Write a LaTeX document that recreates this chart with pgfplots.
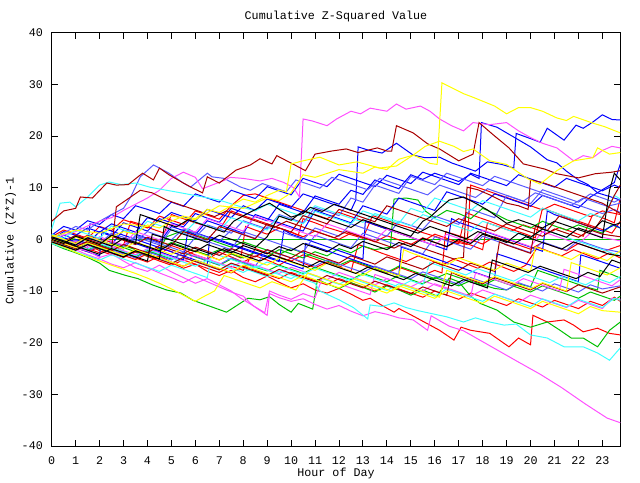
\documentclass[border=0pt]{standalone}
\usepackage{pgfplots}
\pgfplotsset{compat=1.18}
\usepackage{fontspec}
\setmainfont{Liberation Mono}
\definecolor{gred}{HTML}{FF0000}
\definecolor{ggreen}{HTML}{00C000}
\definecolor{gblue}{HTML}{0000FF}
\definecolor{gmag}{HTML}{FF50FF}
\definecolor{gcyan}{HTML}{40FFFF}
\definecolor{gdred}{HTML}{A80000}
\definecolor{gyel}{HTML}{FFFF00}
\definecolor{gblack}{HTML}{000000}
\definecolor{glblue}{HTML}{5A5AFF}
\begin{document}
\begin{tikzpicture}
\fontsize{11.7bp}{14bp}\selectfont
\begin{axis}[
  scale only axis, width=568.6bp, height=413.3bp,
  xmin=0, xmax=23.75, ymin=-40, ymax=40,
  xtick={0,1,...,23}, ytick={-40,-30,...,40},
  yticklabels={-40,-30,-20,-10,0,10,20,30,40},
  /pgf/number format/assume math mode=true,
  tick align=inside, major tick length=6bp,
  axis line style={line width=0.9bp},
  every tick/.style={black, line width=0.9bp},
  ticklabel style={font=\fontsize{11.7bp}{14bp}\selectfont, inner sep=0pt},
  xticklabel style={anchor=center, yshift=-15bp},
  yticklabel style={anchor=east, xshift=-8.7bp},
  every axis plot/.append style={line width=1bp, mark=none},
]
\addplot[ggreen] coordinates {(0,0)(23.75,0)};
% red
\addplot[gred] coordinates {(0,0)(0.5,-0.6)(1,-1.4)(1.5,-1.0)(2,-2.2)(2.5,-3.0)(3,-2.4)(3.5,-3.6)(4,-4.4)(4.5,-3.2)(5,-4.5)(5.5,-5.6)(6,-4.8)(6.5,-6.2)(7,-7.0)(7.5,-6.0)(8,-7.4)(8.5,-8.2)(9,-7.1)(9.5,-8.3)(10,-9.4)(10.5,-8.6)(11,-9.8)(11.5,-10.4)(12,-9.5)(12.5,-10.6)(13,-11.8)(13.3,-11.4)(13.8,-12.8)(14.3,-14.1)(14.5,-13.4)(15,-14.6)(15.4,-15.6)(15.8,-16.6)(16.2,-17.6)(16.8,-19.5)(17.1,-17.0)(17.5,-17.6)(17.9,-17.9)(18.3,-18.2)(18.7,-19.5)(19.1,-20.8)(19.5,-19.1)(19.8,-19.9)(20.0,-20.4)(20.1,-14.7)(20.7,-16.0)(21.4,-15.6)(21.8,-16.6)(22.2,-17.9)(22.8,-17.2)(23.3,-18.2)(23.75,-18.5)};
\addplot[gred] coordinates {(0,1)(0.5,0.3)(1,-0.5)(1.5,0.8)(2,0.2)(2.5,-0.6)(3,-1.2)(3.3,3.5)(3.8,2.8)(4.2,2.0)(4.7,1.2)(5,4.8)(5.5,4.0)(6,3.2)(6.5,2.5)(7,1.8)(7.5,5.5)(8,4.6)(8.5,3.8)(9,3.0)(9.5,2.2)(10,1.4)(10.3,0.8)(10.5,4.0)(11,3.2)(11.5,2.3)(12,1.6)(12.5,0.9)(13,0.2)(13.4,4.6)(13.9,3.8)(14.4,3.0)(15,2.2)(15.5,1.3)(16,0.6)(16.5,-0.2)(17,-0.9)(17.3,5.2)(17.8,4.3)(18.3,3.5)(18.8,2.6)(19.3,1.8)(19.8,1.0)(20.2,0.3)(20.5,6.0)(21,5.2)(21.5,4.3)(22,3.5)(22.5,2.7)(23,1.9)(23.4,1.2)(23.75,3.5)};
\addplot[gred] coordinates {(0,-0.5)(0.5,-1.2)(1,-0.6)(1.5,-1.8)(2,-2.6)(2.5,-1.5)(3,-2.4)(3.5,-3.3)(4,-2.1)(4.5,-3.0)(5,-1.2)(5.5,-2.0)(6,-3.0)(6.5,-3.8)(7,-2.5)(7.5,-3.4)(8,-4.4)(8.5,-3.2)(9,-4.0)(9.5,-5.0)(10,-3.6)(10.5,-4.6)(11,-5.5)(11.5,-4.4)(12,-5.3)(12.5,-6.2)(12.8,-1.0)(13.3,-1.8)(13.8,-2.7)(14.3,-3.5)(14.8,-4.3)(15.3,-3.2)(15.8,-4.0)(16.3,-5.0)(16.8,-3.8)(17.3,-4.7)(17.8,-5.6)(18.3,-4.4)(18.8,-5.3)(19.3,-6.2)(19.8,-5.0)(20.3,-1.5)(20.8,-2.4)(21.3,-3.2)(21.8,-2.0)(22.3,-2.9)(22.8,-3.8)(23.3,-2.6)(23.75,-3.6)};
\addplot[gred] coordinates {(0,0.2)(0.5,-0.5)(1,-1.3)(1.5,-0.4)(2,-1.3)(2.5,-2.1)(3,-1.0)(3.5,-1.9)(4,-2.8)(4.5,-1.6)(5,-2.4)(5.5,-3.3)(6,-2.2)(6.5,-3.1)(7,-4.0)(7.5,-2.8)(7.9,-3.6)(8.1,2.5)(8.5,1.8)(9,1.0)(9.5,2.2)(10,1.4)(10.5,0.5)(11,1.6)(11.5,0.8)(12,0.0)(12.5,1.2)(13,0.4)(13.5,-0.5)(14,0.7)(14.5,-0.1)(15,-1.0)(15.5,0.3)(16,-0.6)(16.5,-1.4)(17,-0.3)(17.5,-1.1)(18,-2.0)(18.2,3.2)(18.7,2.4)(19.2,1.6)(19.7,2.8)(20.2,2.0)(20.7,1.1)(21.2,2.3)(21.7,1.5)(22.2,0.6)(22.6,4.8)(23.1,4.0)(23.5,3.2)(23.75,8.0)};
\addplot[gred] coordinates {(0,0)(0.5,-0.8)(1,-1.6)(1.5,-2.4)(2,-1.5)(2.5,-2.3)(3,-3.1)(3.5,-3.9)(4,-2.8)(4.5,-3.6)(5,-4.4)(5.5,-5.2)(6,-4.1)(6.5,-4.9)(7,-5.7)(7.5,-6.5)(8,-5.2)(8.5,-6.0)(9,-6.8)(9.5,-7.6)(10,-6.4)(10.5,-7.2)(11,-8.0)(11.5,-8.8)(12,-7.6)(12.5,-8.4)(13,-9.2)(13.5,-10.0)(14,-8.8)(14.5,-9.6)(15,-10.4)(15.5,-11.2)(16,-10.0)(16.5,-10.8)(17,-11.6)(17.5,-10.4)(18,-11.2)(18.5,-12.0)(19,-12.8)(19.5,-11.5)(20,-12.3)(20.5,-13.1)(21,-11.8)(21.5,-12.6)(22,-13.4)(22.5,-12.0)(23,-12.8)(23.5,-11.2)(23.75,-12.0)};
\addplot[gred] coordinates {(0,0)(0.5,-0.9)(1,-1.8)(1.5,-0.9)(2,-1.8)(2.5,-2.7)(3,-3.5)(3.5,-2.5)(4,-3.3)(4.5,-4.2)(5,-5.0)(5.5,-4.0)(6,-4.8)(6.5,-5.6)(7,-6.4)(7.5,-5.2)(8,-6.0)(8.5,-1.8)(9,-2.6)(9.5,-3.4)(10,-4.2)(10.5,-3.0)(11,-3.8)(11.5,-4.6)(12,-5.4)(12.5,-4.2)(13,-5.0)(13.5,-5.8)(14,-6.6)(14.5,-5.4)(15,-6.2)(15.5,-7.0)(16,-6.0)(16.3,-6.5)(16.45,1.5)(17,0.7)(17.5,-0.1)(18,-0.9)(18.5,0.5)(19,-0.3)(19.5,-1.1)(20,-1.9)(20.5,-0.6)(21,-1.4)(21.5,-2.2)(22,-0.8)(22.5,-1.6)(23,-2.4)(23.75,-1.2)};
\addplot[gred] coordinates {(0,0.5)(0.5,1.8)(1,1.0)(1.5,0.2)(2,2.5)(2.5,1.7)(3,3.8)(3.5,3.0)(4,2.2)(4.5,4.5)(5,3.7)(5.5,2.9)(6,5.5)(6.5,4.7)(7,3.9)(7.5,6.5)(8,8.5)(8.5,8.8)(9,8.0)(9.5,7.2)(10,6.4)(10.5,5.6)(11,4.8)(11.5,4.0)(12,5.2)(12.5,4.4)(13,3.6)(13.5,2.8)(14,2.0)(14.5,1.2)(15,0.4)(15.5,-0.4)(16,1.0)(16.5,0.2)(17,-0.6)(17.35,-1.0)(17.5,10.5)(18,9.7)(18.5,8.9)(19,8.1)(19.5,7.3)(20,6.5)(20.5,5.7)(21,6.8)(21.5,6.0)(22,5.2)(22.5,4.4)(23,5.5)(23.75,4.8)};
% green
\addplot[ggreen] coordinates {(0,-0.8)(0.5,-1.8)(1,-2.6)(1.5,-3.5)(2,-4.6)(2.4,-6.0)(3.1,-7.0)(3.6,-7.6)(4.2,-8.8)(4.8,-9.8)(5.4,-10.4)(5.9,-11.8)(6.7,-13.1)(7.3,-14.1)(7.8,-12.6)(8.2,-11.4)(8.7,-11.7)(9.1,-11.1)(9.5,-12.6)(10.0,-14.1)(10.3,-12.4)(10.9,-13.5)(11.1,-7.8)(11.5,-8.6)(12,-9.5)(12.5,-8.4)(13,-9.3)(13.5,-10.2)(14,-9.0)(14.5,-9.8)(15,-10.8)(15.5,-9.8)(15.8,-10.4)(16.1,-11.0)(16.6,-7.5)(17.0,-8.2)(17.5,-11.0)(17.9,-12.4)(18.6,-13.7)(19.3,-16.0)(20.0,-17.0)(20.7,-16.0)(21.2,-17.5)(21.7,-19.1)(22.2,-19.1)(22.8,-20.8)(23.3,-17.6)(23.75,-16.0)};
\addplot[ggreen] coordinates {(0,-0.3)(0.5,-1.0)(1,-1.8)(1.5,-0.8)(2,-1.6)(2.5,-2.5)(3,-1.2)(3.5,-2.0)(4,-2.8)(4.5,-1.8)(5,-0.6)(5.5,-1.4)(6,-2.3)(6.5,-3.0)(7,-2.0)(7.5,-2.8)(8,-3.6)(8.5,-2.5)(9,-3.3)(9.5,-2.0)(10,-2.8)(10.5,-3.6)(11,-2.4)(11.5,-3.2)(12,-1.8)(12.5,-2.6)(13,-1.3)(13.5,-2.0)(14.15,-1.5)(14.3,7.8)(14.8,8.0)(15.3,7.6)(15.6,5.5)(16.0,4.2)(16.5,5.6)(17,5.0)(17.5,4.0)(18,6.0)(18.5,5.0)(19,3.8)(19.5,3.0)(20,2.2)(20.5,3.5)(21,2.6)(21.5,1.8)(22,2.8)(22.5,2.0)(23,1.2)(23.4,2.8)(23.75,2.2)};
\addplot[ggreen] coordinates {(0,0.3)(0.5,-0.5)(1,-1.2)(1.5,-2.0)(2,-1.0)(2.5,-1.8)(3,-2.6)(3.5,-3.3)(4,-2.2)(4.5,-3.0)(5,-3.8)(5.5,-2.6)(6,-3.4)(6.5,-4.2)(7,-5.0)(7.5,-3.8)(8,-4.6)(8.5,-5.4)(9,-6.1)(9.5,-5.0)(10,-5.8)(10.5,-6.6)(11,-5.4)(11.5,-6.2)(12,-7.0)(12.5,-7.8)(13,-6.6)(13.5,-7.4)(14,-8.2)(14.5,-7.0)(15,-7.8)(15.5,-8.6)(16,-7.4)(16.5,-8.2)(17,-9.0)(17.5,-8.0)(18,-8.8)(18.5,-9.5)(19,-9.8)(19.5,-8.6)(20,-9.2)(20.3,-6.0)(20.8,-6.8)(21.3,-7.6)(21.8,-8.4)(22.3,-9.2)(22.8,-9.8)(22.9,-6.0)(23.4,-6.8)(23.75,-7.5)};
\addplot[ggreen] coordinates {(0,-0.2)(0.5,-1.0)(1,-0.3)(1.5,-1.1)(2,-1.9)(2.5,-0.8)(3,-1.6)(3.5,-2.4)(4,-3.2)(4.5,-2.0)(4.8,0.5)(5.2,1.2)(5.6,1.8)(6,0.9)(6.5,0.1)(7,-0.7)(7.5,-1.5)(8,-0.5)(8.5,-1.3)(9,-2.1)(9.5,-2.9)(10,-1.8)(10.5,-2.6)(11,-3.4)(11.5,-4.2)(12,-5.0)(12.5,-4.0)(13,-4.8)(13.5,-5.6)(14,-6.4)(14.5,-5.2)(15,-6.0)(15.5,-6.8)(16,-7.6)(16.5,-6.6)(17,-7.4)(17.5,-8.2)(18,-9.0)(18.5,-7.8)(19,-8.6)(19.5,-9.4)(20,-10.2)(20.5,-9.0)(21,-9.8)(21.5,-10.6)(22,-11.4)(22.5,-10.2)(23,-11.0)(23.5,-11.8)(23.75,-11.0)};
% blue
\addplot[gblue] coordinates {(0,0)(0.5,1.5)(1,0.8)(1.5,2.2)(2,1.4)(2.5,3.0)(3,2.2)(3.5,1.4)(4,4.2)(4.5,3.4)(5,5.2)(5.5,4.4)(6,3.6)(6.5,5.8)(7,5.0)(7.5,4.2)(8,6.5)(8.5,5.6)(9,7.8)(9.5,7.0)(10,6.2)(10.5,8.8)(11,8.0)(11.5,7.2)(12,6.4)(12.5,5.6)(12.7,7.6)(12.8,17.9)(13.2,17.3)(13.8,16.7)(14.4,18.6)(15.1,16.3)(15.6,15.8)(16.2,15.9)(16.7,14.8)(17.2,14.0)(17.7,13.2)(18.2,15.0)(18.8,14.5)(19.3,13.8)(19.4,20.5)(20.0,19.5)(20.4,18.8)(20.7,21.5)(21.4,19.2)(21.9,22.1)(22.2,21.5)(22.6,22.7)(23.0,24.1)(23.4,23.2)(23.75,23.1)};
\addplot[gblue] coordinates {(0,-0.5)(0.5,0.8)(1,0.0)(1.5,-0.8)(2,1.5)(2.5,0.6)(3,3.2)(3.5,2.4)(4,1.6)(4.5,4.0)(5,3.2)(5.5,2.4)(6,5.0)(6.5,4.1)(7,3.3)(7.5,6.0)(8,5.2)(8.5,4.4)(9,3.6)(9.5,6.8)(10,6.0)(10.5,5.2)(11,8.4)(11.5,7.6)(12,6.8)(12.5,9.5)(13,8.7)(13.5,11.5)(14,10.6)(14.5,9.8)(15,12.5)(15.5,11.6)(16,12.8)(16.5,12.0)(17,11.2)(17.5,12.6)(17.85,11.8)(17.95,22.6)(18.6,21.7)(19.3,19.8)(20.0,17.9)(20.7,15.4)(21.1,14.8)(21.5,13.2)(22,11.5)(22.4,10.6)(22.8,9.0)(23.3,8.3)(23.75,7.6)};
\addplot[gblue] coordinates {(0,0.5)(0.5,-0.3)(1,-1.1)(1.5,0.6)(2,-0.2)(2.5,-1.0)(3,1.8)(3.5,1.0)(4,0.2)(4.5,-0.6)(5,2.5)(5.5,1.7)(6,0.9)(6.5,3.6)(7,2.8)(7.5,2.0)(8,1.2)(8.5,4.8)(9,4.0)(9.5,3.2)(10,2.4)(10.5,1.6)(11,5.6)(11.5,4.8)(12,4.0)(12.5,3.2)(13,6.5)(13.5,5.7)(14,4.9)(14.5,8.0)(15,7.2)(15.5,6.4)(16,5.6)(16.5,9.2)(17,8.4)(17.5,7.6)(18,6.8)(18.5,8.8)(19,8.0)(19.5,7.2)(20,6.4)(20.5,8.5)(21,7.7)(21.5,6.9)(22,6.1)(22.5,8.2)(23,9.6)(23.5,11.0)(23.75,14.6)};
\addplot[gblue] coordinates {(0,0)(0.5,-0.8)(1,-1.6)(1.5,-2.4)(2,-3.2)(2.1,1.5)(2.5,0.8)(3,0.0)(3.5,-0.8)(4,-1.6)(4.5,-2.4)(5,-3.2)(5.5,-4.0)(5.7,2.0)(6,1.3)(6.5,0.5)(7,-0.3)(7.5,-1.1)(8,-1.9)(8.5,-2.7)(9,-3.5)(9.5,-4.3)(9.7,1.8)(10,1.0)(10.5,0.2)(11,-0.6)(11.5,-1.4)(12,-2.2)(12.5,-3.0)(13,-3.8)(13.1,3.5)(13.5,2.8)(14,2.0)(14.5,1.2)(15,0.4)(15.5,-0.4)(16,-1.2)(16.5,-2.0)(16.7,4.0)(17,3.3)(17.5,2.5)(18,1.7)(18.5,0.9)(19,0.1)(19.5,-0.7)(20,-1.5)(20.5,-2.3)(20.7,5.5)(21,4.8)(21.5,4.0)(22,3.2)(22.5,2.4)(23,1.6)(23.5,2.8)(23.75,2.2)};
\addplot[gblue] coordinates {(0,1)(0.5,0.3)(1,-0.5)(1.5,-1.3)(1.6,3.0)(2,2.4)(2.5,1.6)(3,0.8)(3.5,0.0)(4,-0.8)(4.5,-1.6)(5,-2.4)(5.5,-3.2)(6,-4.0)(6.5,-4.8)(6.6,0.5)(7,-0.1)(7.5,-0.9)(8,-1.7)(8.5,-2.5)(9,-3.3)(9.5,-4.1)(10,-4.9)(10.5,-5.7)(10.6,-0.8)(11,-1.4)(11.5,-2.2)(12,-3.0)(12.5,-3.8)(13,-4.6)(13.5,-5.4)(14,-6.2)(14.5,-7.0)(14.6,-1.5)(15,-2.1)(15.5,-2.9)(16,-3.7)(16.5,-4.5)(17,-5.3)(17.5,-6.1)(18,-6.9)(18.5,-7.7)(18.6,-2.8)(19,-3.4)(19.5,-4.2)(20,-5.0)(20.5,-5.8)(21,-6.6)(21.5,-7.4)(22,-8.2)(22.1,-3.0)(22.5,-3.6)(23,-4.4)(23.5,-5.2)(23.75,-5.6)};
\addplot[gblue] coordinates {(0,0.8)(0.5,2.5)(1,1.8)(1.5,3.6)(2,2.9)(2.5,4.8)(3,4.0)(3.5,6.5)(4,5.8)(4.5,5.0)(5,7.2)(5.5,6.4)(6,8.8)(6.5,8.0)(7,7.2)(7.5,9.5)(8,8.7)(8.5,7.9)(9,10.2)(9.5,9.4)(10,8.6)(10.5,11.8)(11,11.0)(11.5,10.2)(12,12.6)(12.5,11.8)(13,11.0)(13.5,10.2)(14,12.4)(14.5,11.6)(15,10.8)(15.5,13.0)(16,12.2)(16.5,11.4)(17,10.6)(17.5,12.8)(18,12.0)(18.5,11.2)(19,10.4)(19.5,12.5)(20,11.7)(20.5,10.9)(21,10.1)(21.5,11.8)(22,11.0)(22.5,10.2)(23,9.4)(23.5,10.5)(23.75,10.0)};
% light blue
\addplot[glblue] coordinates {(0,0)(0.5,1.2)(1,2.5)(1.5,1.8)(2,3.5)(2.5,4.8)(3,6.0)(3.3,8.2)(3.7,12.1)(4.25,14.4)(4.5,13.8)(4.9,12.8)(5.5,10.9)(5.8,10.1)(6.5,12.8)(6.7,12.1)(7.2,11.8)(7.9,10.1)(8.3,9.5)(8.8,10.8)(9.3,10.0)(9.8,9.2)(10.2,11.5)(10.7,10.7)(11.2,9.9)(11.7,12.0)(12.2,11.2)(12.7,10.4)(13.2,9.6)(13.7,11.8)(14.2,11.0)(14.7,10.2)(15.2,9.4)(15.7,8.6)(16.2,10.5)(16.7,9.7)(17.2,8.9)(17.7,8.1)(18.2,9.8)(18.7,9.0)(19.2,8.2)(19.7,7.4)(20.2,9.0)(20.7,8.2)(21.2,7.4)(21.7,6.6)(22.2,8.0)(22.7,7.2)(23.2,6.4)(23.75,7.0)};
\addplot[glblue] coordinates {(0,0.5)(0.5,-0.2)(1,-1.0)(1.5,0.5)(2,-0.3)(2.5,-1.1)(3,-1.9)(3.5,0.8)(4,0.0)(4.5,-0.8)(5,-1.6)(5.5,-2.4)(6,0.4)(6.5,-0.4)(7,-1.2)(7.5,-2.0)(8,1.5)(8.5,0.7)(9,-0.1)(9.5,-0.9)(10,-1.7)(10.5,-2.5)(11,0.8)(11.5,0.0)(12,-0.8)(12.5,-1.6)(13,1.2)(13.5,0.4)(14,-0.4)(14.5,-1.2)(15,-2.0)(15.5,-2.8)(16,0.5)(16.5,-0.3)(17,-1.1)(17.5,-1.9)(18,0.6)(18.5,-0.2)(19,-1.0)(19.5,-1.8)(20,-2.6)(20.5,-0.5)(21,-1.3)(21.5,-2.1)(22,-0.2)(22.5,-1.0)(23,-1.8)(23.75,-2.5)};
\addplot[glblue] coordinates {(0,-0.3)(0.5,-1.1)(1,-0.2)(1.5,-1.0)(2,-1.8)(2.5,-0.5)(3,-1.3)(3.5,0.5)(4,-0.3)(4.5,-1.1)(5,2.0)(5.5,1.2)(6,0.4)(6.5,2.8)(7,2.0)(7.5,1.2)(8,3.6)(8.5,2.8)(9,2.0)(9.5,4.8)(10,4.0)(10.5,3.2)(11,6.2)(11.5,5.4)(12,4.6)(12.5,8.0)(13,7.2)(13.5,10.5)(14,9.7)(14.5,8.9)(15,12.2)(15.5,11.4)(16,10.6)(16.5,12.8)(17,12.0)(17.5,11.2)(18,10.4)(18.5,12.2)(19,11.4)(19.5,10.6)(20,9.8)(20.5,9.0)(21,8.2)(21.5,7.4)(22,6.6)(22.5,5.8)(23,5.0)(23.5,5.8)(23.75,5.2)};
\addplot[glblue] coordinates {(0,0)(0.5,-0.7)(1,-1.5)(1.5,-2.3)(2,-1.2)(2.5,-2.0)(3,-2.8)(3.5,-3.6)(4,-2.4)(4.5,-3.2)(5,-4.0)(5.5,-2.5)(6,-3.3)(6.5,-4.1)(7,-4.9)(7.5,-3.6)(8,-4.4)(8.5,-5.2)(9,-2.0)(9.5,-2.8)(10,-3.6)(10.5,-4.4)(11,-5.2)(11.5,-4.0)(12,-4.8)(12.5,-5.6)(13,-6.4)(13.5,-5.2)(14,-6.0)(14.5,-6.8)(15,-7.6)(15.5,-6.3)(16,-7.1)(16.5,-7.9)(17,-8.7)(17.5,-7.4)(18,-8.2)(18.5,-9.0)(19,-9.8)(19.5,-8.4)(20,-9.2)(20.5,-10.0)(21,-8.6)(21.5,-9.4)(22,-10.2)(22.5,-8.8)(23,-9.6)(23.75,-9.0)};
\addplot[glblue] coordinates {(0,0.2)(0.5,-0.6)(1,0.8)(1.5,0.0)(2,-0.8)(2.5,1.2)(3,0.4)(3.5,-0.4)(4,1.5)(4.5,0.7)(5,-0.1)(5.5,2.0)(6,1.2)(6.5,0.4)(7,-0.4)(7.5,1.8)(8,1.0)(8.5,0.2)(9,2.4)(9.5,1.6)(10,0.8)(10.5,0.0)(11,2.2)(11.5,1.4)(12,0.6)(12.5,3.0)(13,2.2)(13.5,1.4)(14,0.6)(14.5,3.5)(15,2.7)(15.5,1.9)(16,4.5)(16.5,3.7)(17,2.9)(17.5,5.8)(18,5.0)(18.5,4.2)(19,8.5)(19.5,7.7)(20,6.9)(20.5,9.6)(21,8.8)(21.5,8.0)(22,7.2)(22.5,8.8)(23,8.0)(23.5,7.2)(23.75,7.8)};
% magenta
\addplot[gmag] coordinates {(0,0)(0.5,0.8)(1,1.5)(1.5,2.6)(2,3.5)(2.5,4.2)(3,5.6)(3.5,6.8)(4,8.0)(4.5,9.5)(5,11.8)(5.5,13.0)(6,12.0)(6.3,9.8)(6.75,10.6)(7.2,11.4)(7.45,12.0)(8,11.8)(8.7,11.3)(9.2,11.8)(9.7,11.0)(10.1,10.0)(10.35,8.2)(10.5,23.3)(10.9,22.9)(11.5,22.0)(11.9,23.3)(12.5,24.8)(12.9,24.3)(13.3,25.4)(14.0,24.8)(14.4,26.2)(14.8,25.2)(15.4,25.8)(15.8,24.8)(16.2,23.3)(16.7,22.0)(17.2,21.0)(17.6,22.6)(18.3,22.2)(19.0,22.6)(19.5,21.0)(20.0,19.7)(20.5,18.6)(21.1,17.7)(21.8,15.2)(22.2,16.2)(22.6,15.8)(23.0,17.2)(23.4,18.0)(23.75,17.7)};
\addplot[gmag] coordinates {(0,0)(0.5,-0.8)(1,-1.8)(1.5,-2.2)(2,-3.5)(2.5,-2.8)(3,-4.2)(3.5,-5.5)(4,-6.2)(4.5,-5.0)(5,-6.3)(5.5,-7.4)(6,-8.5)(6.5,-7.6)(7,-8.8)(7.5,-10.0)(7.9,-11.4)(8.4,-12.8)(9.0,-14.7)(9.1,-10.5)(9.5,-11.3)(10,-12.0)(10.5,-11.5)(11,-12.6)(11.5,-13.5)(12,-12.8)(12.5,-13.9)(13,-14.8)(13.5,-14.0)(14,-14.5)(14.5,-15.2)(15.1,-15.6)(15.7,-17.6)(15.85,-14.8)(16.6,-16.8)(17.2,-17.7)(18.3,-20.6)(19.4,-23.5)(20.4,-26.1)(21.3,-28.7)(22.3,-31.9)(23.2,-34.6)(23.75,-35.5)};
\addplot[gmag] coordinates {(0,0.8)(0.5,0.0)(1,-0.8)(1.5,-1.6)(2,-0.6)(2.5,-1.4)(3,-2.2)(3.5,-3.0)(4,-1.8)(4.5,-2.6)(5,-3.4)(5.5,-4.2)(6,-3.0)(6.5,-3.8)(7,-4.6)(7.5,-5.4)(8,-4.2)(8.5,-5.0)(9,-5.8)(9.5,-6.6)(10,-5.4)(10.5,-6.2)(11,-7.0)(11.5,-7.8)(12,-6.4)(12.5,-7.2)(13,-8.0)(13.5,-8.8)(14,-7.6)(14.5,-8.4)(15,-9.2)(15.5,-10.0)(16,-8.6)(16.5,-9.4)(17,-10.2)(17.5,-11.0)(18,-9.8)(18.5,-10.6)(19,-11.4)(19.5,-12.2)(20,-10.8)(20.5,-11.6)(21,-12.4)(21.5,-13.2)(22,-11.8)(22.5,-12.6)(23,-13.4)(23.4,-11.4)(23.75,-11.6)};
\addplot[gmag] coordinates {(0,-0.5)(0.5,-1.2)(1,-0.4)(1.5,-1.2)(2,0.5)(2.5,-0.3)(3,-1.1)(3.5,1.5)(4,0.7)(4.5,-0.1)(5,3.0)(5.5,2.2)(6,1.4)(6.5,4.0)(7,3.2)(7.5,2.4)(8,1.6)(8.5,4.5)(9,3.7)(9.5,2.9)(10,2.1)(10.5,1.3)(11,0.5)(11.5,3.0)(12,2.2)(12.5,1.4)(13,0.6)(13.5,-0.2)(14,2.0)(14.5,1.2)(15,0.4)(15.5,-0.4)(16,-1.2)(16.5,1.0)(17,0.2)(17.5,-0.6)(18,1.8)(18.5,1.0)(19,0.2)(19.5,-0.6)(20,-1.4)(20.5,1.5)(21,0.7)(21.5,-0.1)(22,-0.9)(22.5,1.2)(23,0.4)(23.75,-0.3)};
\addplot[gmag] coordinates {(0,0)(0.5,-1.0)(1,-2.0)(1.5,-3.0)(2,-3.8)(2.5,-4.8)(3,-5.5)(3.5,-4.5)(4,-5.5)(4.5,-6.5)(5,-7.4)(5.5,-8.4)(6,-7.2)(6.5,-8.2)(7,-9.2)(7.5,-10.2)(8,-11.0)(8.4,-12.8)(8.9,-14.2)(9.1,-10.0)(9.5,-10.8)(10,-11.6)(10.5,-10.5)(11,-11.3)(11.3,-7.5)(11.8,-8.3)(12.3,-9.1)(12.8,-9.9)(13.3,-10.7)(13.5,-6.8)(14,-7.6)(14.5,-8.4)(15,-9.2)(15.5,-8.0)(16,-8.8)(16.5,-9.6)(17,-10.4)(17.5,-11.2)(17.7,-6.5)(18.2,-7.3)(18.7,-8.1)(19.2,-8.9)(19.7,-7.6)(20.2,-8.4)(20.7,-9.2)(21.2,-10.0)(21.4,-5.8)(21.9,-6.6)(22.4,-7.4)(22.9,-8.2)(23.4,-9.0)(23.75,-7.8)};
% cyan
\addplot[gcyan] coordinates {(0,2.0)(0.35,7.0)(0.76,7.2)(1.0,6.3)(1.5,8.2)(2.0,10.5)(2.4,11.1)(2.9,10.6)(3.5,10.9)(4.1,10.1)(4.8,9.5)(5.4,9.0)(6.2,8.3)(7.0,7.6)(7.9,6.3)(8.5,5.5)(9,6.8)(9.5,6.0)(10,5.2)(10.5,4.4)(11,6.5)(11.5,5.7)(12,4.9)(12.5,4.1)(13,3.3)(13.5,5.0)(14,4.2)(14.5,3.4)(15,2.6)(15.5,4.8)(16,4.0)(16.5,3.2)(17,2.4)(17.5,1.6)(18,3.5)(18.5,2.7)(19,1.9)(19.5,1.1)(20,0.3)(20.5,2.0)(21,1.2)(21.5,0.4)(22,-0.4)(22.5,-1.2)(23,-2.0)(23.75,-3.2)};
\addplot[gcyan] coordinates {(0,-0.3)(0.5,-1.1)(1,-1.9)(1.5,-0.9)(2,-1.7)(2.5,-2.5)(3,-3.3)(3.5,-2.2)(4,-3.0)(4.5,-3.8)(5,-4.6)(5.5,-3.5)(6,-4.3)(6.5,-5.1)(7,-5.9)(7.5,-4.8)(8,-5.6)(8.5,-6.4)(9,-7.2)(9.5,-6.1)(10,-6.9)(10.5,-7.7)(11,-8.5)(11.2,-10.0)(12.0,-11.7)(12.6,-13.2)(13.2,-15.4)(13.3,-12.7)(13.8,-13.0)(14.3,-12.3)(14.8,-13.2)(15.3,-13.8)(15.8,-14.3)(16.5,-15.0)(17.2,-16.0)(17.7,-15.2)(18.3,-16.0)(18.9,-16.6)(19.4,-16.4)(20.0,-18.5)(20.7,-19.1)(21.4,-20.8)(22.2,-20.8)(22.8,-22.0)(23.3,-23.4)(23.75,-21.0)};
\addplot[gcyan] coordinates {(0,0.5)(0.5,-0.3)(1,-1.1)(1.5,-1.9)(2,-0.8)(2.5,-1.6)(3,-2.4)(3.5,-3.2)(4,-2.0)(4.5,-2.8)(5,-3.6)(5.5,-4.4)(6,-5.2)(6.5,-4.0)(7,-4.8)(7.5,-5.6)(8,-6.4)(8.5,-5.2)(9,-6.0)(9.5,-6.8)(10,-7.6)(10.5,-6.3)(11,-7.1)(11.5,-7.9)(12,-8.7)(12.5,-7.5)(13,-8.3)(13.5,-9.1)(14,-9.9)(14.5,-8.6)(15,-9.4)(15.5,-10.2)(16,-11.0)(16.5,-9.6)(17,-10.4)(17.5,-11.2)(18,-12.0)(18.5,-10.6)(19,-11.4)(19.5,-12.2)(20,-13.0)(20.5,-11.5)(21,-12.3)(21.5,-13.1)(22,-11.6)(22.5,-12.4)(23,-13.2)(23.5,-11.4)(23.75,-11.8)};
\addplot[gcyan] coordinates {(0,1.0)(0.5,0.2)(1,1.8)(1.5,1.0)(2,0.2)(2.5,2.6)(3,1.8)(3.5,1.0)(4,3.5)(4.5,2.7)(5,1.9)(5.5,1.1)(6,3.4)(6.5,2.6)(7,1.8)(7.5,4.2)(8,3.4)(8.5,2.6)(9,1.8)(9.5,4.6)(10,3.8)(10.5,3.0)(11,5.4)(11.5,4.6)(12,3.8)(12.5,3.0)(13,5.5)(13.5,4.7)(14,3.9)(14.5,3.1)(15,6.0)(15.5,5.2)(16,8.0)(16.5,7.2)(17,6.4)(17.5,5.6)(18,7.5)(18.5,6.7)(19,5.9)(19.5,5.1)(20,4.3)(20.5,6.0)(21,5.2)(21.5,4.4)(22,3.6)(22.5,5.0)(23,4.2)(23.5,8.5)(23.75,7.8)};
\addplot[gcyan] coordinates {(0,-0.8)(0.5,-1.6)(1,-2.4)(1.5,-3.2)(2,-4.0)(2.5,-3.0)(3,-3.8)(3.5,-4.6)(4,-5.4)(4.5,-6.2)(5,-5.0)(5.5,-5.8)(6,-6.6)(6.5,-7.4)(6.7,-2.5)(7,-3.1)(7.5,-3.9)(8,-4.7)(8.5,-5.5)(9,-4.4)(9.5,-5.2)(10,-6.0)(10.5,-6.8)(11,-5.6)(11.5,-6.4)(12,-7.2)(12.5,-8.0)(13,-6.8)(13.5,-7.6)(14,-8.4)(14.5,-9.2)(15,-8.0)(15.5,-8.8)(15.8,-4.5)(16.3,-5.3)(16.8,-6.1)(17.3,-6.9)(17.8,-5.7)(18.3,-6.5)(18.8,-7.3)(19.3,-8.1)(19.8,-6.8)(20.3,-7.6)(20.8,-8.4)(21.3,-7.2)(21.8,-8.0)(22.3,-8.8)(22.8,-7.6)(23.3,-8.4)(23.75,-7.2)};
% dark red
\addplot[gdred] coordinates {(0,3.5)(0.5,5.5)(1.0,6.0)(1.2,8.2)(1.7,8.0)(2.3,10.9)(2.7,10.5)(3.2,10.6)(3.6,12.1)(3.8,12.8)(4.25,11.5)(4.5,13.8)(4.9,12.5)(5.5,10.9)(5.9,9.9)(6.3,9.0)(6.5,12.1)(7.0,10.9)(7.7,13.4)(8.3,14.4)(8.7,15.6)(9.2,14.6)(9.4,16.2)(9.9,15.0)(10.6,13.3)(11.0,16.5)(11.7,17.1)(12.3,17.5)(12.8,16.8)(13.6,17.7)(14.0,17.1)(14.2,17.1)(14.4,22.0)(15.1,20.6)(15.7,18.5)(16.2,17.5)(17.0,15.2)(17.6,16.5)(17.85,22.6)(18.4,20.4)(19.1,17.7)(19.7,14.6)(20.6,13.6)(21.1,12.7)(22.0,11.9)(22.7,12.7)(23.4,13.0)(23.75,13.3)};
\addplot[gdred] coordinates {(0,0.2)(0.5,-0.6)(1,-1.4)(1.5,-0.4)(2,-1.2)(2.5,-2.0)(2.7,6.3)(3.3,8.2)(3.7,9.5)(4.2,9.0)(4.8,7.6)(5.3,6.8)(5.8,6.0)(6.3,5.2)(6.8,4.4)(7.3,5.5)(7.8,4.7)(8.3,3.9)(8.8,3.1)(9.3,2.3)(9.8,3.5)(10.3,2.7)(10.8,1.9)(11.3,1.1)(11.8,0.3)(12.3,1.5)(12.8,0.7)(13.3,-0.1)(13.8,-0.9)(14.3,-1.7)(14.8,-0.6)(15.3,-1.4)(15.8,-2.2)(16.3,-3.0)(16.8,-3.8)(17.2,-3.5)(17.35,10.1)(17.8,9.6)(18.3,8.6)(19.0,7.0)(19.5,6.5)(19.9,5.8)(20.0,11.5)(20.5,11.0)(21,10.2)(21.5,9.4)(22,8.6)(22.5,7.8)(23,7.0)(23.75,5.0)};
\addplot[gdred] coordinates {(0,-0.5)(0.5,-1.3)(1,-2.1)(1.5,-1.0)(2,-1.8)(2.5,-2.6)(3,-3.4)(3.5,-2.3)(4,-3.1)(4.5,-3.9)(5,-4.7)(5.5,-3.5)(6,-4.3)(6.5,-5.1)(7,-5.9)(7.5,-4.6)(8,-5.4)(8.5,-6.2)(9,-7.0)(9.5,-5.8)(10,-6.6)(10.5,-7.4)(11,-8.2)(11.5,-7.0)(12,-7.8)(12.5,-8.6)(13,-9.4)(13.5,-8.1)(14,-8.9)(14.5,-9.7)(15,-10.5)(15.5,-9.2)(16,-10.0)(16.5,-10.8)(16.7,-6.4)(17,-7.0)(17.5,-7.8)(18,-8.6)(18.5,-7.4)(19,-8.2)(19.5,-9.0)(20,-9.8)(20.5,-8.5)(21,-9.3)(21.5,-10.1)(22,-8.8)(22.5,-9.6)(23,-10.4)(23.75,-9.2)};
\addplot[gdred] coordinates {(0,0.3)(0.5,-0.5)(1,0.8)(1.5,0.0)(2,-0.8)(2.5,0.6)(3,-0.2)(3.5,-1.0)(4,0.4)(4.5,-0.4)(5,-1.2)(5.5,1.5)(6,0.7)(6.5,-0.1)(7,2.5)(7.5,1.7)(8,0.9)(8.5,0.1)(9,3.0)(9.5,2.2)(10,1.4)(10.5,4.6)(11,3.8)(11.5,3.0)(12,5.8)(12.5,5.0)(13,4.2)(13.5,3.4)(14,6.5)(14.5,5.7)(15,4.9)(15.5,4.1)(16,3.3)(16.5,2.5)(17,4.0)(17.5,3.2)(18,2.4)(18.5,1.6)(19,3.0)(19.5,2.2)(20,1.4)(20.5,0.6)(21,2.0)(21.5,1.2)(22,0.4)(22.5,1.8)(23,1.0)(23.75,0.5)};
\addplot[gdred] coordinates {(0,-0.2)(0.5,-1.0)(1,-1.8)(1.5,-0.6)(2,-1.4)(2.5,-2.2)(3,-1.0)(3.5,-1.8)(4,-2.6)(4.5,-1.2)(5,-2.0)(5.5,-2.8)(6,-1.5)(6.5,-2.3)(7,-3.1)(7.5,-1.8)(8,-2.6)(8.5,-3.4)(9,-2.0)(9.5,-2.8)(10,-3.6)(10.5,-2.2)(11,-3.0)(11.5,-3.8)(12,-4.6)(12.5,-3.2)(13,-4.0)(13.5,-4.8)(14,-3.4)(14.5,-4.2)(15,-5.0)(15.5,-5.8)(16,-4.4)(16.5,-5.2)(17,-6.0)(17.5,-4.6)(18,-5.4)(18.5,-6.2)(18.7,-0.5)(19,-1.1)(19.5,-1.9)(20,-2.7)(20.2,2.5)(20.7,1.7)(21.2,4.5)(21.7,3.7)(22.2,2.9)(22.7,2.1)(23.2,5.6)(23.5,8.5)(23.75,10.5)};
% yellow
\addplot[gyel] coordinates {(0,0)(0.5,-0.5)(1,0.4)(1.5,-0.3)(2,-1)(2.5,0.5)(3,1.5)(3.5,1)(4,2.8)(4.5,2.2)(5,3.5)(5.5,4.5)(6,4.0)(6.5,5.8)(7,5.2)(7.5,6.5)(8,7.8)(8.5,7.2)(9,8.5)(9.5,9.5)(9.8,9.2)(10.0,14.6)(10.5,15.2)(11.2,15.9)(12.0,14.4)(12.75,15.0)(13.7,13.8)(14.4,14.2)(15.1,16.3)(15.5,15.5)(15.8,14.7)(16.1,14.5)(16.3,30.3)(17.2,28.2)(17.6,27.5)(18.5,25.8)(19.0,24.3)(19.5,25.5)(20.0,25.5)(20.5,24.8)(21.1,23.5)(21.5,23.0)(21.8,23.8)(22.6,22.5)(23.1,21.8)(23.75,20.6)};
\addplot[gyel] coordinates {(0,0.5)(1,1.8)(2,1.2)(3,3.0)(4,2.5)(5,4.5)(6,3.8)(7,6.5)(8,6.0)(9,8.0)(9.5,7.5)(10,9.0)(10.5,12.5)(11,12)(12,13.5)(13,12.8)(13.5,14)(14,13.5)(14.5,15.5)(15.1,16.3)(15.6,18.0)(16.2,19.0)(16.8,18.0)(17.2,17.0)(17.6,17.5)(18.3,15.2)(19,14.5)(19.9,11.7)(20.4,10.7)(21.1,13.3)(21.8,15.2)(22.6,15.8)(22.8,17.7)(23.3,16.5)(23.75,16.8)};
\addplot[gyel] coordinates {(0,0)(0.5,-0.8)(1,-1.6)(1.5,-0.7)(2,-1.5)(2.5,-2.3)(3,-3.1)(3.5,-2.0)(4,-2.8)(4.5,-3.6)(5,-4.4)(5.5,-5.2)(6,-4.0)(6.5,-4.8)(7,-5.6)(7.5,-6.4)(8,-5.0)(8.5,-5.8)(9,-6.6)(9.5,-7.4)(10,-8.2)(10.5,-7.0)(11,-7.8)(11.5,-8.6)(12,-9.4)(12.5,-8.0)(13,-8.8)(13.5,-9.6)(14,-10.4)(14.5,-9.0)(15,-9.8)(15.5,-10.6)(16,-11.4)(16.5,-10.0)(17,-10.8)(17.5,-11.6)(18,-12.4)(18.5,-11.0)(19,-11.8)(19.5,-12.6)(20,-13.4)(20.5,-12.0)(21,-12.8)(21.5,-13.6)(22,-14.4)(22.5,-13.0)(23,-13.8)(23.75,-14.1)};
\addplot[gyel] coordinates {(0,-0.5)(0.5,-1.5)(1,-2.5)(1.5,-3.4)(2,-4.2)(2.5,-5.0)(3,-5.8)(3.5,-6.6)(4,-7.5)(4.5,-8.5)(5,-9.6)(5.5,-10.8)(6,-12.0)(6.3,-11.2)(6.8,-10.0)(7.2,-7.0)(7.7,-7.8)(8.2,-8.6)(8.7,-9.4)(9.2,-8.2)(9.7,-9.0)(10.2,-9.8)(10.7,-6.5)(11.2,-7.3)(11.7,-8.1)(12.2,-8.9)(12.7,-7.6)(13.2,-8.4)(13.7,-9.2)(14.2,-10.0)(14.7,-8.8)(15.2,-9.6)(15.7,-10.4)(16.2,-11.2)(16.5,-6.0)(17,-6.8)(17.5,-7.6)(18,-8.4)(18.5,-7.2)(19,-8.0)(19.5,-8.8)(20,-9.6)(20.5,-8.4)(21,-9.2)(21.5,-10.0)(21.7,-4.5)(22.2,-5.3)(22.7,-6.1)(23.2,-6.9)(23.75,-5.5)};
\addplot[gyel] coordinates {(0,0.8)(0.5,0.0)(1,-0.8)(1.5,0.6)(2,-0.2)(2.5,-1.0)(3,-1.8)(3.5,-0.5)(4,-1.3)(4.5,-2.1)(5,-2.9)(5.5,-1.6)(6,-2.4)(6.5,-3.2)(7,-4.0)(7.5,-2.6)(8,-3.4)(8.5,-4.2)(9,-5.0)(9.5,-3.6)(10,-4.4)(10.5,-5.2)(11,-6.0)(11.5,-4.6)(12,-5.4)(12.5,-6.2)(13,-7.0)(13.5,-5.5)(14,-6.3)(14.5,-7.1)(14.7,-2.0)(15,-2.6)(15.5,-3.4)(16,-4.2)(16.5,-5.0)(17,-3.6)(17.5,-4.4)(18,-5.2)(18.5,-6.0)(19,-4.6)(19.5,-5.4)(20,-6.2)(20.2,-1.5)(20.7,-2.3)(21.2,-3.1)(21.7,-3.9)(22.2,-2.5)(22.7,-3.3)(23.2,-4.1)(23.75,-2.2)};
% black
\addplot[gblack] coordinates {(0,-0.5)(0.5,-1.3)(1,-2.1)(1.5,-1.0)(2,-1.8)(2.5,-2.6)(3,-3.4)(3.5,-2.2)(4,-3.0)(4.5,-3.8)(4.7,2.5)(5,1.8)(5.5,1.0)(6,0.2)(6.5,-0.6)(7,0.8)(7.5,0.0)(8,-0.8)(8.5,-1.6)(9,0.5)(9.5,4.5)(10,3.7)(10.5,5.5)(11,4.7)(11.5,3.9)(12,3.1)(12.5,2.3)(13,3.8)(13.5,3.0)(14,2.2)(14.5,1.4)(15,0.6)(15.5,3.5)(15.8,4.3)(16.2,6.0)(16.6,7.6)(17.2,8.2)(17.7,7.0)(18.2,5.7)(19.0,3.1)(19.5,3.8)(20,3.0)(20.5,2.2)(21,3.5)(21.5,2.7)(22,1.9)(22.5,1.1)(23,0.3)(23.3,9.5)(23.5,12.8)(23.75,11.5)};
\addplot[gblack] coordinates {(0,0)(0.5,-0.8)(1,0.6)(1.5,-0.2)(2,-1.0)(2.5,0.8)(3,0.0)(3.5,-0.8)(3.7,4.8)(4.2,4.0)(4.7,3.2)(5.2,2.4)(5.7,3.8)(6.2,3.0)(6.7,2.2)(7.2,1.4)(7.6,3.5)(8.1,4.8)(8.6,6.0)(9.1,7.0)(9.5,5.8)(10.0,4.3)(10.5,5.0)(10.8,6.2)(11.3,5.4)(11.8,6.8)(12.3,6.0)(12.8,5.2)(13.3,4.4)(13.8,3.6)(14.3,2.8)(14.8,2.0)(15.3,1.2)(15.8,2.5)(16.3,1.7)(16.8,0.9)(17.3,0.1)(17.8,1.5)(18.3,0.7)(18.8,-0.1)(19.3,-0.9)(19.8,0.5)(20.3,-0.3)(20.8,-1.1)(21.3,-1.9)(21.8,-0.5)(22.3,-1.3)(22.8,-2.1)(23.3,-2.9)(23.75,-3.2)};
\addplot[gblack] coordinates {(0,0.3)(0.5,-0.5)(1,-1.3)(1.5,-2.1)(2,-2.9)(2.5,-1.8)(3,-2.6)(3.5,-3.4)(4,-4.2)(4.2,1.0)(4.7,0.3)(5.2,-0.5)(5.7,-1.3)(6.2,-2.1)(6.7,-2.9)(7.2,-1.8)(7.7,-2.6)(8.2,-3.4)(8.7,-4.2)(9.2,-3.0)(9.7,-3.8)(10.2,-4.6)(10.7,-5.4)(11.2,-4.2)(11.7,-5.0)(12.2,-5.8)(12.7,-6.6)(13.2,-5.4)(13.7,-6.2)(14.2,-7.0)(14.7,-7.8)(15.2,-6.6)(15.7,-7.4)(16.2,-8.2)(16.7,-9.0)(17.2,-7.8)(17.7,-8.6)(18.2,-9.4)(18.4,-4.0)(18.9,-4.8)(19.4,-5.6)(19.9,-6.4)(20.4,-5.2)(20.9,-6.0)(21.4,-6.8)(21.9,-7.6)(22.4,-6.4)(22.9,-7.2)(23.4,-4.0)(23.75,-4.6)};
\addplot[gblack] coordinates {(0,0.5)(0.5,-0.3)(1,-1.1)(1.5,0.3)(2,-0.5)(2.5,-1.3)(3,0.2)(3.5,-0.6)(4,-1.4)(4.5,-2.2)(5,-0.8)(5.5,-1.6)(6,-2.4)(6.5,-1.0)(7,-1.8)(7.5,-2.6)(8,-1.2)(8.5,-2.0)(9,-2.8)(9.5,-1.4)(10,-2.2)(10.5,-0.8)(11,-1.6)(11.5,-2.4)(12,-1.0)(12.5,-1.8)(13,-0.4)(13.5,-1.2)(14,-2.0)(14.5,-0.6)(15,-1.4)(15.5,0.2)(16,-0.6)(16.5,-1.4)(17,0.0)(17.5,-0.8)(18,1.0)(18.5,0.2)(19,-0.6)(19.5,1.2)(20,0.4)(20.5,2.0)(21,1.2)(21.5,0.4)(22,2.2)(22.5,1.4)(23,3.6)(23.5,2.8)(23.75,3.2)};
\end{axis}
\pgfresetboundingbox
\path (-51.7bp,-34bp) rectangle (588.3bp,446bp);
\node at (284.3bp,430bp) {Cumulative Z-Squared Value};
\node at (284.3bp,-27bp) {Hour of Day};
\node[rotate=90] at (-41bp,205bp) {Cumulative (Z*Z)-1};
\end{tikzpicture}
\end{document}
